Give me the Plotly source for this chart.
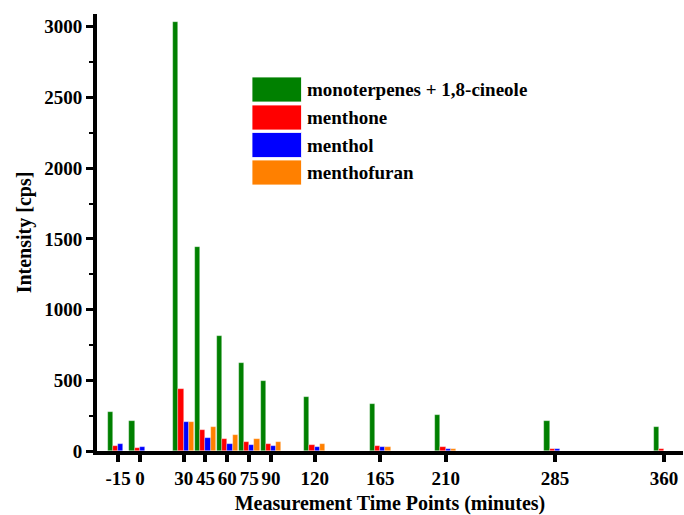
import plotly.graph_objects as go

# Measurement time points (minutes) and intensities (cps)
time_points = [-15, 0, 30, 45, 60, 75, 90, 120, 165, 210, 285, 360]
tick_labels = ["-15", "0", "30", "45", "60", "75", "90", "120", "165", "210", "285", "360"]

monoterpenes = [275, 214, 3030, 1443, 811, 622, 494, 384, 334, 256, 214, 171]
menthone = [32, 23, 436, 152, 84, 67, 51, 41, 34, 25, 14, 16]
menthol = [46, 25, 204, 93, 51, 44, 34, 25, 25, 16, 16, 0]
menthofuran = [0, 0, 204, 171, 110, 86, 67, 46, 25, 12, 0, 0]

series_names = ["monoterpenes + 1,8-cineole", "menthone", "menthol", "menthofuran"]
series_values = [monoterpenes, menthone, menthol, menthofuran]
colors = ["#008000", "#ff0000", "#0000ff", "#ff8000"]

bar_w = 3.6
FONT = "Liberation Serif"

fig = go.Figure()
for i, (name, vals, col) in enumerate(zip(series_names, series_values, colors)):
    fig.add_trace(go.Bar(
        x=time_points, y=vals, name=name,
        width=bar_w, offset=(i - 2) * bar_w,
        marker=dict(color=col, line=dict(color="rgba(255,255,255,0.5)", width=0.6)),
        showlegend=False,
    ))

# Legend drawn as large swatches with labels (plot area: x 97..683, y 14..451 px)
def px_x(p):
    return (p - 97) / 586.0

def px_y(p):
    return (451 - p) / 437.0

sw_top = [77, 105, 132.5, 160]
for name, col, top in zip(series_names, colors, sw_top):
    fig.add_shape(type="rect", xref="paper", yref="paper",
                  x0=px_x(252), x1=px_x(301.5), y0=px_y(top + 25), y1=px_y(top),
                  fillcolor=col, line=dict(color="rgba(255,255,255,0.8)", width=1))
    fig.add_annotation(xref="paper", yref="paper", x=px_x(305), y=px_y(top + 12.5),
                       text=name, showarrow=False, xanchor="left", yanchor="middle",
                       font=dict(family=FONT, size=19, color="black", weight="bold"))

fig.update_layout(
    width=684, height=515,
    margin=dict(l=97, r=1, t=14, b=64),
    paper_bgcolor="white", plot_bgcolor="white",
    font=dict(family=FONT, color="black"),
    bargap=0,
    xaxis=dict(
        range=[-29.5, 373],
        tickmode="array", tickvals=time_points, ticktext=tick_labels,
        ticks="outside", ticklen=7, tickwidth=4, tickcolor="black",
        showline=True, linewidth=4, linecolor="black",
        showgrid=False, zeroline=False,
        tickfont=dict(family=FONT, size=19, color="black", weight="bold"),
        title=dict(text="Measurement Time Points (minutes)", standoff=12,
                   font=dict(family=FONT, size=20, color="black", weight="bold")),
    ),
    yaxis=dict(
        range=[0, 3090],
        tickmode="array", tickvals=[0, 500, 1000, 1500, 2000, 2500, 3000],
        ticks="outside", ticklen=7, tickwidth=3, tickcolor="black",
        minor=dict(tickvals=[250, 750, 1250, 1750, 2250, 2750], ticks="outside",
                   ticklen=4, tickwidth=2, tickcolor="black", showgrid=False),
        showline=True, linewidth=4, linecolor="black",
        showgrid=False, zeroline=False,
        tickfont=dict(family=FONT, size=19, color="black", weight="bold"),
        title=dict(text="Intensity [cps]", standoff=8,
                   font=dict(family=FONT, size=20, color="black", weight="bold")),
    ),
)

fig.write_html("out.html")
